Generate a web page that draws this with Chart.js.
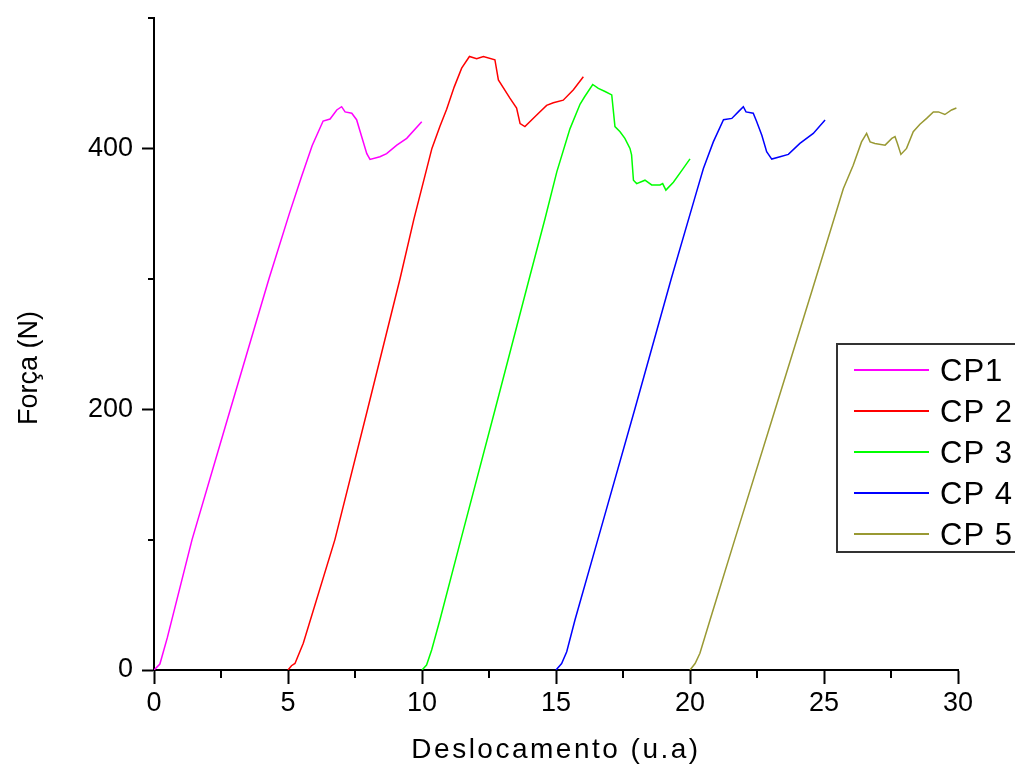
<!DOCTYPE html>
<html>
<head>
<meta charset="utf-8">
<script src="https://cdn.jsdelivr.net/npm/chart.js@4.4.1/dist/chart.umd.min.js"></script>
<style>
  html, body { margin: 0; padding: 0; background: #fff; }
  #wrap { width: 1015px; height: 769px; }
</style>
</head>
<body>
<div id="wrap"><canvas id="c" width="1015" height="769"></canvas></div>
<script>
// ---- data ----
const seriesLabels = ['CP1', 'CP 2', 'CP 3', 'CP 4', 'CP 5'];
const seriesColors = ['#ff00ff', '#ff0000', '#00ff00', '#0000ff', '#999933'];

const cp1X = [0, 0.22, 0.5, 1.42, 2.85, 4.29, 5.05, 5.5, 5.9, 6.31, 6.57, 6.82, 7.0, 7.13, 7.38, 7.56, 7.75, 7.94, 8.06, 8.43, 8.68, 9.06, 9.43, 9.99];
const cp1Y = [0, 4.6, 25, 100, 200, 300, 350, 378, 402, 421, 422.5, 429.5, 432, 428, 427, 422, 409, 396, 391.5, 393.6, 396, 402.5, 407.7, 420.5];

const cp2X = [5.0, 5.13, 5.26, 5.57, 6.75, 7.97, 9.18, 9.7, 10.37, 10.67, 10.92, 11.2, 11.48, 11.77, 12.04, 12.29, 12.72, 12.85, 13.28, 13.53, 13.66, 13.84, 14.28, 14.65, 14.9, 15.27, 15.65, 16.02];
const cp2Y = [0, 3.3, 5, 20.5, 100, 200, 300, 346, 400, 417, 430, 447, 461.5, 470.5, 468.7, 470.5, 468, 452.5, 438.5, 431, 419, 416.7, 425.6, 433, 435, 437, 445, 455];

const cp3X = [10.0, 10.17, 10.36, 10.67, 11.45, 12.73, 14.0, 14.59, 15.03, 15.52, 15.9, 16.08, 16.37, 16.58, 16.83, 17.08, 17.2, 17.39, 17.57, 17.76, 17.82, 17.89, 18.01, 18.32, 18.57, 18.88, 18.98, 19.1, 19.38, 19.69, 20.0];
const cp3Y = [0, 3.8, 15.4, 38.5, 100, 200, 300, 346, 382, 415, 434, 440, 449, 446, 443.6, 441, 416.7, 412.8, 407.7, 400, 395, 375.6, 373, 375.6, 372, 372, 373, 368, 374, 383, 392];

const cp4X = [15.0, 15.21, 15.4, 15.71, 16.56, 17.94, 19.3, 20.19, 20.5, 20.87, 21.25, 21.56, 21.8, 21.99, 22.09, 22.36, 22.49, 22.68, 22.86, 23.05, 23.36, 23.67, 24.1, 24.6, 25.04];
const cp4Y = [0, 5, 14, 38.5, 100, 200, 300, 362.8, 384.6, 405, 422, 423, 428, 432, 428, 427, 420.5, 410, 397.5, 391.8, 393.6, 395.4, 403.8, 411.5, 421.8];

const cp5X = [20.0, 20.19, 20.37, 20.75, 21.67, 23.18, 24.54, 25.72, 26.09, 26.4, 26.59, 26.72, 26.9, 27.28, 27.53, 27.65, 27.74, 27.87, 28.08, 28.33, 28.58, 28.83, 29.08, 29.27, 29.51, 29.76, 29.94];
const cp5Y = [0, 5, 12.8, 38.5, 100, 200, 290, 369, 387, 405, 411.5, 405, 403.8, 402.5, 407.7, 409, 403.8, 395.4, 400, 412.8, 418.5, 423, 428, 428, 426, 429.5, 431];

const xMajorTicks = [0, 5, 10, 15, 20, 25, 30];
const xMinorTicks = [2.5, 7.5, 12.5, 17.5, 22.5, 27.5];
const yMajorTicks = [0, 200, 400];
const yMinorTicks = [100, 300, 500];
const xTitle = 'Deslocamento (u.a)';
const yTitle = 'Força (N)';

// ---- build datasets ----
const xs = [cp1X, cp2X, cp3X, cp4X, cp5X];
const ys = [cp1Y, cp2Y, cp3Y, cp4Y, cp5Y];
const datasets = seriesLabels.map((lab, i) => ({
  label: lab,
  data: xs[i].map((x, k) => ({ x: x, y: ys[i][k] })),
  borderColor: seriesColors[i],
  backgroundColor: seriesColors[i],
  borderWidth: 1.5,
  showLine: true,
  pointRadius: 0,
  tension: 0,
  fill: false
}));

const FONT = '"Liberation Sans", Arial, sans-serif';

const decorPlugin = {
  id: 'decor',
  afterDraw(chart) {
    const ctx = chart.ctx;
    const sx = chart.scales.x, sy = chart.scales.y;
    const area = chart.chartArea;
    ctx.save();
    // minor ticks
    ctx.strokeStyle = '#000';
    ctx.lineWidth = 2;
    xMinorTicks.forEach(v => {
      const px = Math.round(sx.getPixelForValue(v));
      ctx.beginPath();
      ctx.moveTo(px, area.bottom);
      ctx.lineTo(px, area.bottom + 8);
      ctx.stroke();
    });
    yMinorTicks.forEach(v => {
      const py = Math.round(sy.getPixelForValue(v));
      ctx.beginPath();
      ctx.moveTo(area.left, py);
      ctx.lineTo(area.left - 6, py);
      ctx.stroke();
    });
    // axis titles
    ctx.fillStyle = '#000';
    ctx.textAlign = 'center';
    ctx.textBaseline = 'middle';
    ctx.font = '28px ' + FONT;
    if ('letterSpacing' in ctx) ctx.letterSpacing = '2.5px';
    ctx.fillText(xTitle, (area.left + area.right) / 2, 750);
    if ('letterSpacing' in ctx) ctx.letterSpacing = '0px';
    ctx.save();
    ctx.translate(30, 368);
    ctx.rotate(-Math.PI / 2);
    ctx.font = '27px ' + FONT;
    ctx.fillText(yTitle, 0, 0);
    ctx.restore();
    // legend
    ctx.strokeStyle = '#333';
    ctx.lineWidth = 2;
    ctx.strokeRect(837, 344, 200, 208);
    ctx.font = '31px ' + FONT;
    if ('letterSpacing' in ctx) ctx.letterSpacing = '1px';
    ctx.textBaseline = 'middle';
    ctx.textAlign = 'left';
    chart.data.datasets.forEach((ds, i) => {
      const y = 370 + i * 41;
      ctx.strokeStyle = ds.borderColor;
      ctx.lineWidth = 2;
      ctx.beginPath();
      ctx.moveTo(854, y);
      ctx.lineTo(929, y);
      ctx.stroke();
      ctx.fillStyle = '#000';
      ctx.fillText(ds.label, 940, y + 2);
    });
    ctx.restore();
  }
};

new Chart(document.getElementById('c'), {
  type: 'scatter',
  data: { datasets: datasets },
  options: {
    responsive: false,
    animation: false,
    layout: { padding: { left: 0, top: 18, right: 57, bottom: 0 } },
    plugins: { legend: { display: false }, tooltip: { enabled: false } },
    scales: {
      x: {
        type: 'linear',
        min: 0, max: 30,
        afterFit: s => { s.height = 99; s.paddingLeft = 0; s.paddingRight = 0; },
        afterBuildTicks: s => { s.ticks = xMajorTicks.map(v => ({ value: v })); },
        ticks: { color: '#000', font: { family: FONT, size: 27 }, padding: 3, maxRotation: 0, autoSkip: false },
        grid: { display: true, drawOnChartArea: false, drawTicks: true, tickLength: 14, tickWidth: 2, tickColor: '#000' },
        border: { display: true, color: '#000', width: 2 },
        title: { display: false }
      },
      y: {
        type: 'linear',
        min: 0, max: 500,
        afterFit: s => { s.width = 154; s.paddingTop = 0; s.paddingBottom = 0; },
        afterBuildTicks: s => { s.ticks = yMajorTicks.map(v => ({ value: v })); },
        ticks: { color: '#000', font: { family: FONT, size: 27 }, padding: 9, autoSkip: false },
        grid: { display: true, drawOnChartArea: false, drawTicks: true, tickLength: 12, tickWidth: 2, tickColor: '#000' },
        border: { display: true, color: '#000', width: 2 },
        title: { display: false }
      }
    }
  },
  plugins: [decorPlugin]
});
</script>
</body>
</html>
